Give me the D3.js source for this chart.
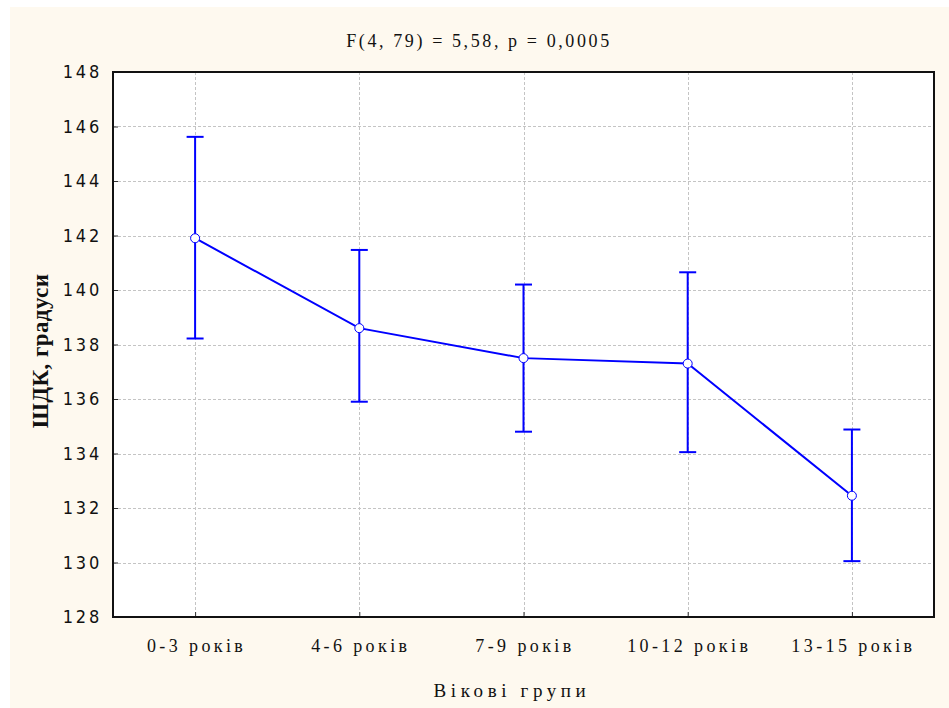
<!DOCTYPE html>
<html>
<head>
<meta charset="utf-8">
<script src="https://cdn.jsdelivr.net/npm/d3@7"></script>
<style>
  html, body { margin: 0; padding: 0; background: #ffffff; }
  svg { display: block; }
</style>
</head>
<body>
<svg id="chart" width="949" height="708"></svg>
<script>
// ---- data ----
const categories = ["0-3 років", "4-6 років", "7-9 років", "10-12 років", "13-15 років"];
const means = [141.9, 138.6, 137.5, 137.3, 132.45];
const upper = [145.62, 141.47, 140.2, 140.65, 134.88];
const lower = [138.22, 135.9, 134.8, 134.05, 130.05];
const yTicks = [128, 130, 132, 134, 136, 138, 140, 142, 144, 146, 148];
const titleText = "F(4, 79) = 5,58, p = 0,0005";
const xTitle = "Вікові групи";
const yTitle = "ШДК, градуси";

const W = 949, H = 708;
const plot = { left: 113, right: 934, top: 72, bottom: 617 };
const blue = "#0000ff";

const svg = d3.select("#chart");

// background
svg.append("rect").attr("x", 0).attr("y", 0).attr("width", W).attr("height", H).attr("fill", "#ffffff");
svg.append("rect").attr("x", 10).attr("y", 7).attr("width", W - 10).attr("height", H - 7).attr("fill", "#fef9ef");
svg.append("rect").attr("x", plot.left).attr("y", plot.top)
  .attr("width", plot.right - plot.left).attr("height", plot.bottom - plot.top)
  .attr("fill", "#ffffff");

const x = d3.scalePoint().domain(categories).range([plot.left, plot.right]).padding(0.5);
const y = d3.scaleLinear().domain([128, 148]).range([plot.bottom, plot.top]);

// grid
const grid = svg.append("g");
grid.selectAll("line.h").data(yTicks.filter(t => t > 128 && t < 148)).join("line")
  .attr("x1", plot.left).attr("x2", plot.right)
  .attr("y1", d => Math.round(y(d)) + 0.5).attr("y2", d => Math.round(y(d)) + 0.5)
  .attr("stroke", "#c4c4c4").attr("stroke-width", 1).attr("stroke-dasharray", "3,2");
grid.selectAll("line.v").data(categories).join("line")
  .attr("x1", d => Math.round(x(d)) + 0.5).attr("x2", d => Math.round(x(d)) + 0.5)
  .attr("y1", plot.top).attr("y2", plot.bottom)
  .attr("stroke", "#c4c4c4").attr("stroke-width", 1).attr("stroke-dasharray", "3,2");

// axes
const yAxis = d3.axisLeft(y).tickValues(yTicks).tickSize(-5).tickPadding(11).tickFormat(d3.format("d"));
const gy = svg.append("g").attr("transform", `translate(${plot.left},0)`).call(yAxis);
gy.select(".domain").remove();
gy.selectAll(".tick line").attr("stroke", "#333").attr("stroke-width", 1);
gy.selectAll(".tick text")
  .attr("font-family", "'Liberation Sans Narrow', 'Arial Narrow', 'DejaVu Sans Condensed', sans-serif")
  .attr("font-size", 18).attr("letter-spacing", "2.8px").attr("fill", "#111");

const xAxis = d3.axisBottom(x).tickSize(-5).tickPadding(22);
const gx = svg.append("g").attr("transform", `translate(0,${plot.bottom})`).call(xAxis);
gx.select(".domain").remove();
gx.selectAll(".tick line").attr("stroke", "#333").attr("stroke-width", 1);
gx.selectAll(".tick text")
  .attr("font-family", "'Liberation Serif', 'Times New Roman', serif")
  .attr("font-size", 18).attr("letter-spacing", "3.4px").attr("fill", "#111")
  .attr("dx", "1px");

// frame
svg.append("rect").attr("x", plot.left).attr("y", plot.top)
  .attr("width", plot.right - plot.left).attr("height", plot.bottom - plot.top)
  .attr("fill", "none").attr("stroke", "#111").attr("stroke-width", 2);

// error bars
const eb = svg.append("g");
categories.forEach((c, i) => {
  const cx = x(c);
  eb.append("line").attr("x1", cx).attr("x2", cx).attr("y1", y(upper[i])).attr("y2", y(lower[i]))
    .attr("stroke", blue).attr("stroke-width", 2);
  [upper[i], lower[i]].forEach(v => {
    eb.append("line").attr("x1", cx - 8.5).attr("x2", cx + 8.5).attr("y1", y(v)).attr("y2", y(v))
      .attr("stroke", blue).attr("stroke-width", 2);
  });
});

// mean line
const line = d3.line().x((d, i) => x(categories[i])).y(d => y(d));
svg.append("path").datum(means).attr("d", line)
  .attr("fill", "none").attr("stroke", blue).attr("stroke-width", 2);

svg.append("g").selectAll("circle").data(means).join("circle")
  .attr("cx", (d, i) => x(categories[i])).attr("cy", d => y(d)).attr("r", 4.5)
  .attr("fill", "#ffffff").attr("stroke", blue).attr("stroke-width", 1);

// title
svg.append("text").attr("x", 479).attr("y", 47).attr("text-anchor", "middle")
  .attr("font-family", "'Liberation Serif', 'Times New Roman', serif")
  .attr("font-size", 18).attr("letter-spacing", "2.6px").attr("fill", "#111").text(titleText);

// x title
svg.append("text").attr("x", 512).attr("y", 697).attr("text-anchor", "middle")
  .attr("font-family", "'Liberation Serif', 'Times New Roman', serif")
  .attr("font-size", 19).attr("letter-spacing", "4.6px").attr("fill", "#111").text(xTitle);

// y title
svg.append("text").attr("transform", "translate(48,351) rotate(-90)").attr("text-anchor", "middle")
  .attr("font-family", "'Liberation Serif', 'Times New Roman', serif")
  .attr("font-size", 23).attr("font-weight", "bold").attr("letter-spacing", "0.4px")
  .attr("fill", "#111").text(yTitle);
</script>
</body>
</html>
